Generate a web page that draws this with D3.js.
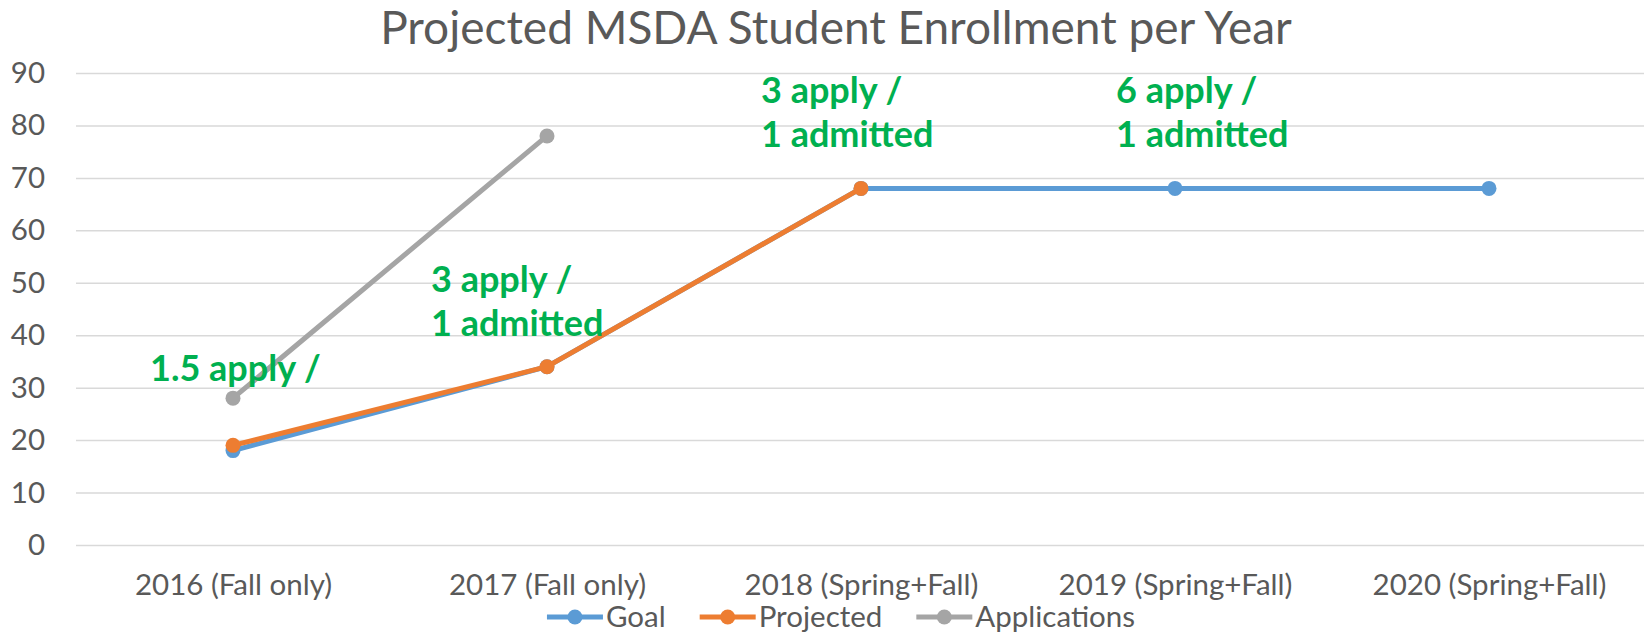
<!DOCTYPE html>
<html>
<head>
<meta charset="utf-8">
<script src="https://cdn.jsdelivr.net/npm/d3@7"></script>
<style>
  body { margin: 0; background: #fff; }
  svg { display: block; font-family: Lato, "Open Sans", sans-serif; }
</style>
</head>
<body>
<svg id="chart" width="1644" height="633"></svg>
<script>
// chart data
const categories = ['2016 (Fall only)', '2017 (Fall only)', '2018 (Spring+Fall)', '2019 (Spring+Fall)', '2020 (Spring+Fall)']
const goal = [18, 34, 68, 68, 68]
const projected = [19, 34, 68, null, null]
const applications = [28, 78, null, null, null]
const yTicks = [0, 10, 20, 30, 40, 50, 60, 70, 80, 90]
const seriesNames = ['Goal', 'Projected', 'Applications']
const notes = [
  { cat: '2016 (Fall only)', lines: ['1.5 apply /'] },
  { cat: '2017 (Fall only)', lines: ['3 apply /', '1 admitted'] },
  { cat: '2018 (Spring+Fall)', lines: ['3 apply /', '1 admitted'] },
  { cat: '2019 (Spring+Fall)', lines: ['6 apply /', '1 admitted'] }
]

const settings = {
  margin: { top: 73, left: 76, bottom: 88, right: -2 },
  width: 1644,
  height: 633,
  textColor: '#595959',
  gridColor: '#d9d9d9',
  noteColor: '#00b050',
  colors: ['#5b9bd5', '#ed7d31', '#a5a5a5'],
  fontSize: '29.5px'
}

const innerwidth = settings.width - settings.margin.left - settings.margin.right,
  innerheight = settings.height - settings.margin.top - settings.margin.bottom

const svg = d3.select('#chart')

// title
svg.append('text')
  .attr('x', 836)
  .attr('y', 44)
  .attr('text-anchor', 'middle')
  .attr('font-size', '46px')
  .attr('fill', settings.textColor)
  .text('Projected MSDA Student Enrollment per Year')

const canvas = svg.append('g')
  .attr('transform', `translate(${settings.margin.left},${settings.margin.top})`)

const xScale = d3.scalePoint().domain(categories).range([0, innerwidth]).padding(0.5)
const yScale = d3.scaleLinear().domain([0, 90]).range([innerheight, 0])

// y axis + gridlines
const yAxisGroup = canvas.append('g')
  .call(d3.axisLeft(yScale).tickValues(yTicks).tickSize(-innerwidth).tickPadding(31))
yAxisGroup.select('.domain').remove()
yAxisGroup.selectAll('line').attr('stroke', settings.gridColor).attr('stroke-width', 1.5)
yAxisGroup.selectAll('text')
  .attr('fill', settings.textColor)
  .attr('font-size', settings.fontSize)
  .attr('font-family', 'Lato, sans-serif')

// x axis labels
const xAxisGroup = canvas.append('g')
  .attr('transform', `translate(0,${innerheight})`)
  .call(d3.axisBottom(xScale).tickSize(0).tickPadding(29))
xAxisGroup.select('.domain').remove()
xAxisGroup.selectAll('text')
  .attr('fill', settings.textColor)
  .attr('font-size', settings.fontSize)
  .attr('font-family', 'Lato, sans-serif')

// series lines
const seriesData = [goal, projected, applications].map((vals, i) => ({
  name: seriesNames[i],
  color: settings.colors[i],
  points: vals.map((v, j) => ({ cat: categories[j], value: v })).filter(d => d.value != null)
}))

const line = d3.line()
  .x(d => xScale(d.cat))
  .y(d => yScale(d.value))

const seriesGroup = canvas.selectAll('.series')
  .data(seriesData)
  .enter()
  .append('g')
  .attr('class', 'series')

seriesGroup.append('path')
  .attr('d', d => line(d.points))
  .attr('fill', 'none')
  .attr('stroke', d => d.color)
  .attr('stroke-width', 5)
  .attr('stroke-linejoin', 'round')
  .attr('stroke-linecap', 'round')

seriesGroup.selectAll('circle')
  .data(d => d.points.map(p => ({ ...p, color: d.color })))
  .enter()
  .append('circle')
  .attr('cx', d => xScale(d.cat))
  .attr('cy', d => yScale(d.value))
  .attr('r', 7.5)
  .attr('fill', d => d.color)

// green annotations
const noteOffset = { '2016 (Fall only)': [-83, 381 - settings.margin.top],
  '2017 (Fall only)': [-116, 292 - settings.margin.top],
  '2018 (Spring+Fall)': [-100, 103 - settings.margin.top],
  '2019 (Spring+Fall)': [-59, 103 - settings.margin.top] }

const noteText = canvas.selectAll('.note')
  .data(notes)
  .enter()
  .append('text')
  .attr('class', 'note')
  .attr('font-size', '36px')
  .attr('font-weight', 'bold')
  .attr('fill', settings.noteColor)
  .attr('transform', d => `translate(${xScale(d.cat) + noteOffset[d.cat][0]},${noteOffset[d.cat][1]})`)

noteText.selectAll('tspan')
  .data(d => d.lines)
  .enter()
  .append('tspan')
  .attr('x', 0)
  .attr('y', (d, i) => i * 44)
  .text(d => d)

// legend
const legend = svg.append('g').attr('transform', 'translate(0,617)')
const items = legend.selectAll('.legendItem')
  .data(seriesData)
  .enter()
  .append('g')
  .attr('class', 'legendItem')

items.append('line')
  .attr('x1', 0).attr('x2', 56)
  .attr('stroke', d => d.color)
  .attr('stroke-width', 5)
items.append('circle')
  .attr('cx', 28)
  .attr('r', 7.5)
  .attr('fill', d => d.color)
items.append('text')
  .attr('x', 59)
  .attr('dy', '0.35em')
  .attr('font-size', settings.fontSize)
  .attr('fill', settings.textColor)
  .text(d => d.name)

let widths = []
items.each(function () { widths.push(this.getBBox().width) })
const gap = 34
const total = d3.sum(widths) + gap * (widths.length - 1)
let cursor = 841 - total / 2
items.attr('transform', (d, i) => {
  const x = cursor
  cursor += widths[i] + gap
  return `translate(${x},0)`
})
</script>
</body>
</html>
